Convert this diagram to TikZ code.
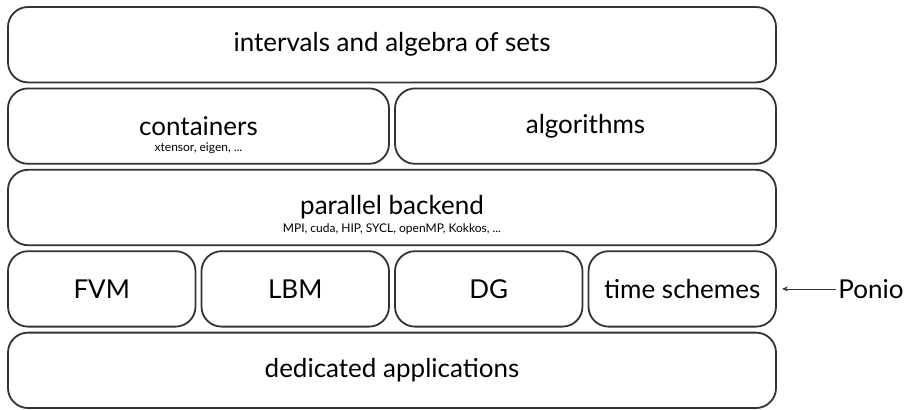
\documentclass[tikz,border=0pt]{standalone}
\usepackage{fontspec}
\setmainfont{Lato}
\usepackage{tikz}
\usetikzlibrary{positioning,arrows.meta}

\begin{document}
\begin{tikzpicture}[node distance=3pt,
			layer/.style={draw=black!80, line width=0.9pt, rounded corners=10pt, minimum height=37.7pt, inner sep=0pt, outer sep=0pt, align=center, font=\fontsize{13}{15}\selectfont},
			wide/.style={layer, minimum width=384pt},
			half/.style={layer, minimum width=190.5pt},
			quarter/.style={layer, minimum width=93.75pt},
			sub/.style={inner sep=0pt, font=\fontsize{6}{7}\selectfont},
			arrow/.style={-{Stealth[length=3pt,width=2.5pt]}, thin, black!80}]
			
			\node[wide] (sets) {intervals and algebra of sets};
			\node[half, below=of sets.south west, anchor=north west] (containers) {containers};
			\node[sub, below=8pt of containers.center] (containerslibs) {xtensor, eigen, ...};
			\node[half, below=of sets.south east, anchor=north east] (algorithms) {algorithms};
			\node[wide, below=of containers.south west, anchor=north west] (backend) {parallel backend};
			\node[sub, below=8pt of backend.center] (backendlibs) {MPI, cuda, HIP, SYCL, openMP, Kokkos, ...};
			\node[quarter, below=of backend.south west, anchor=north west] (fvm) {FVM};
			\node[quarter, right=of fvm] (lbm) {LBM};
			\node[quarter, right=of lbm] (dg) {DG};
			\node[quarter, right=of dg] (time) {time schemes};
			\node[wide, below=of fvm.south west, anchor=north west] (apps) {dedicated applications};
			
			\node[inner sep=1pt, right=30pt of time, font=\fontsize{13}{15}\selectfont] (ponio) {Ponio};
			\draw[arrow, shorten >=3pt] (ponio) -- (time);
			
			\useasboundingbox ([shift={(-4pt,3.5pt)}]sets.north west) rectangle ([shift={(450pt,-0.5pt)}]apps.south west);
		\end{tikzpicture}
\end{document}
